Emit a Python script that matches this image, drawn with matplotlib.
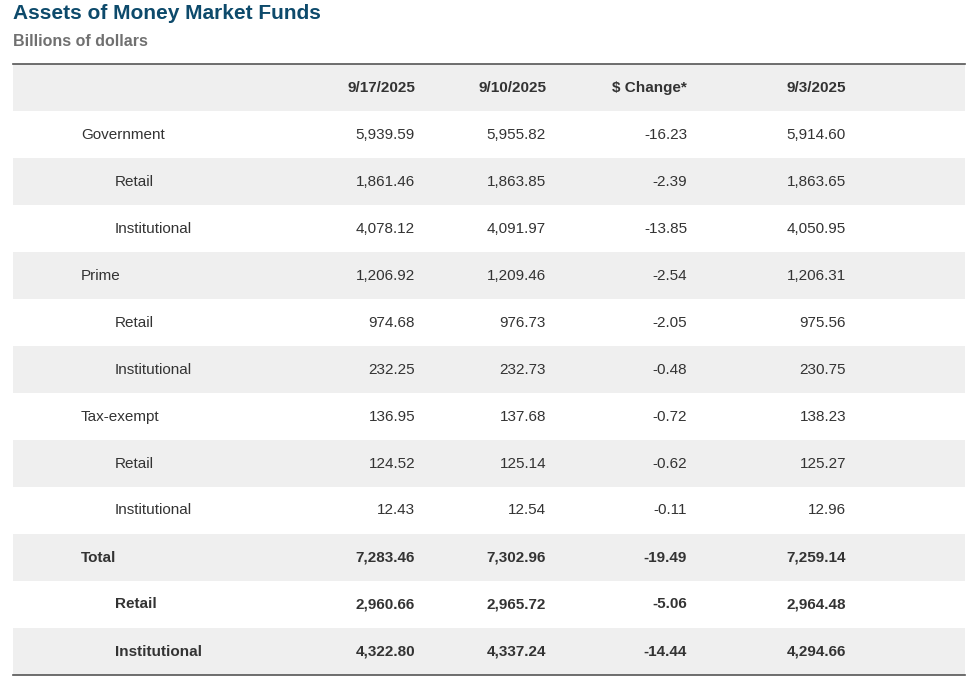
import matplotlib
matplotlib.use("Agg")
import matplotlib.pyplot as plt
from matplotlib.patches import Rectangle

title = "Assets of Money Market Funds"
subtitle = "Billions of dollars"
columns = ["9/17/2025", "9/10/2025", "$ Change*", "9/3/2025"]
labels = ["Government", "Retail", "Institutional", "Prime", "Retail", "Institutional",
          "Tax-exempt", "Retail", "Institutional", "Total", "Retail", "Institutional"]
indent = [0, 1, 1, 0, 1, 1, 0, 1, 1, 0, 1, 1]
bold = [False]*9 + [True]*3
col_0917 = ["5,939.59", "1,861.46", "4,078.12", "1,206.92", "974.68", "232.25",
            "136.95", "124.52", "12.43", "7,283.46", "2,960.66", "4,322.80"]
col_0910 = ["5,955.82", "1,863.85", "4,091.97", "1,209.46", "976.73", "232.73",
            "137.68", "125.14", "12.54", "7,302.96", "2,965.72", "4,337.24"]
col_change = ["-16.23", "-2.39", "-13.85", "-2.54", "-2.05", "-0.48",
              "-0.72", "-0.62", "-0.11", "-19.49", "-5.06", "-14.44"]
col_0903 = ["5,914.60", "1,863.65", "4,050.95", "1,206.31", "975.56", "230.75",
            "138.23", "125.27", "12.96", "7,259.14", "2,964.48", "4,294.66"]

W, H = 980, 685
fig = plt.figure(figsize=(W/100, H/100), dpi=100)
ax = fig.add_axes([0, 0, 1, 1])
ax.set_xlim(0, W); ax.set_ylim(H, 0); ax.axis("off")

font = "Arial" if False else "Liberation Sans"
txt = "#333333"
gray = "#efefef"
ax.text(13, 13, title, fontsize=15, fontweight="bold", color="#0d4a6b", va="center", family=font)
ax.text(13, 41, subtitle, fontsize=11.5, fontweight="bold", color="#707070", va="center", family=font)

x0, x1 = 13, 965
top = 64
rh = 47
colx = [415, 546, 687, 846]
ax.add_patch(Rectangle((x0, top), x1-x0, rh, color=gray, lw=0))
ax.plot([x0, x1], [top, top], color="#555555", lw=1.2)
for cx, c in zip(colx, columns):
    ax.text(cx, top+rh/2, c, ha="right", va="center", fontsize=11, fontweight="bold", color=txt, family=font)
cols = [col_0917, col_0910, col_change, col_0903]
for i, lab in enumerate(labels):
    y = top + rh*(i+1)
    if i % 2 == 1:
        ax.add_patch(Rectangle((x0, y), x1-x0, rh, color=gray, lw=0))
    fw = "bold" if bold[i] else "normal"
    ax.text(81 + 34*indent[i], y+rh/2, lab, ha="left", va="center", fontsize=11, fontweight=fw, color=txt, family=font)
    for cx, col in zip(colx, cols):
        ax.text(cx, y+rh/2, col[i], ha="right", va="center", fontsize=11, fontweight=fw, color=txt, family=font)
yb = top + rh*(len(labels)+1)
ax.plot([x0, x1], [yb, yb], color="#555555", lw=1.2)
fig.savefig("out.png", dpi=100)
